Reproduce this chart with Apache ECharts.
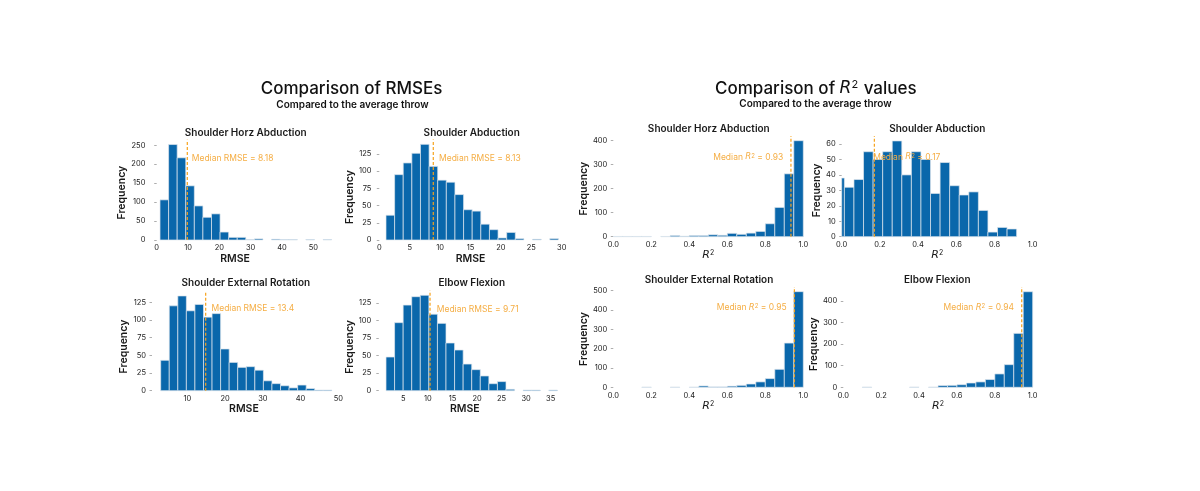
<!DOCTYPE html>
<html>
<head>
<meta charset="utf-8">
<title>RMSE / R2 histograms</title>
<script src="https://cdn.jsdelivr.net/npm/echarts@6/dist/echarts.min.js"></script>
<style>
html, body { margin: 0; padding: 0; background: #fff; }
#main { width: 1200px; height: 491px; }
</style>
</head>
<body>
<div id="main"></div>
<script>
// joint names, same order in both halves
var jointNames = ['Shoulder Horz Abduction', 'Shoulder Abduction', 'Shoulder External Rotation', 'Elbow Flexion'];

// RMSE histograms, 20 equal bins between the range ends
var rmseHorzCounts = [106, 252, 217, 143, 90, 60, 69, 21, 7, 7, 1, 3, 0, 2, 1, 1, 0, 1, 0, 1];
var rmseAbdCounts  = [36, 95, 112, 126, 139, 107, 87, 84, 66, 44, 42, 23, 15, 3, 11, 2, 0, 1, 0, 2];
var rmseExtCounts  = [43, 120, 134, 113, 122, 104, 109, 59, 40, 33, 34, 29, 14, 10, 7, 4, 8, 3, 1, 1];
var rmseElbCounts  = [48, 97, 122, 134, 136, 109, 96, 68, 58, 38, 30, 21, 10, 13, 2, 0, 1, 1, 0, 1];
var rmseRanges     = [[1.06, 55.85], [1.10, 29.46], [2.94, 48.3], [1.47, 36.37]];
var rmseLinePos    = [9.77, 8.88, 14.86, 10.43];   // where the dashed line is drawn
var rmseMedianText = ['8.18', '8.13', '13.4', '9.71'];

// R^2 histograms (abduction has 19 bins, the first one is cut at 0)
var r2HorzCounts = [1, 1, 1, 1, 0, 1, 5, 2, 5, 5, 8, 6, 14, 10, 15, 22, 54, 122, 262, 400];
var r2AbdCounts  = [38, 32, 37, 55, 50, 55, 62, 40, 55, 50, 28, 48, 33, 27, 29, 17, 3, 6, 5];
var r2ExtCounts  = [0, 0, 0, 1, 0, 0, 1, 0, 1, 7, 2, 2, 6, 10, 17, 28, 45, 93, 229, 495];
var r2ElbCounts  = [0, 0, 1, 0, 0, 0, 0, 1, 0, 1, 8, 9, 12, 20, 25, 36, 62, 105, 250, 443];
var r2Ranges     = [[0, 1], [-0.036, 0.916], [0, 1], [0, 1]];
var r2LinePos    = [0.935, 0.171, 0.953, 0.942];
var r2MedianText = ['0.93', '0.17', '0.95', '0.94'];

// axis ticks
var rmseXMax = [50, 30, 50, 35], rmseXStep = [10, 5, 10, 5];
var rmseYMax = [250, 125, 125, 125], rmseYStep = [50, 25, 25, 25];
var r2YMax = [400, 60, 500, 400], r2YStep = [100, 10, 100, 100];

var FONT = 'Inter, "Open Sans", sans-serif';
var BAR = '#0a67ab';
var EDGE = '#dfe7ee';
var ORANGE = '#f7a21b';
var INK = '#1a1a1a';

// layout of each panel (pixels), label anchor in data units
var panels = [
  { grid: [156.7, 145.3, 156.6, 94.7], yOff: 5.3, yGap: 21, xGap: 12, title: [245.7, 132.7], lab: [11.2, 216], side: 'right' },
  { grid: [379.3, 154, 182.4, 86], yOff: 1.9, yGap: 19.5, xGap: 12, title: [471.7, 132.7], lab: [9.82, 119], side: 'right' },
  { grid: [149.6, 302.3, 188.7, 88.4], yOff: -2.4, yGap: 20, xGap: 12, title: [245.8, 283.3], lab: [16.4, 116], side: 'right', hideMin: true },
  { grid: [378.8, 303, 171.9, 87.7], yOff: 1.5, yGap: 19, xGap: 12, title: [471.8, 283.3], lab: [11.8, 116.5], side: 'right', hideMin: true },
  { grid: [613.3, 140.7, 190, 96], yOff: 0, yGap: 23, xGap: 12, title: [708.8, 129], lab: [0.895, 331], side: 'left' },
  { grid: [841.7, 144, 191, 92.7], yOff: 0, yGap: 16.5, xGap: 12, title: [937.3, 129], lab: [0.165, 51.4], side: 'right', clipLo: 0 },
  { grid: [613.3, 290.7, 190, 96.6], yOff: 0, yGap: 21, xGap: 12, title: [709, 280], lab: [0.913, 412], side: 'left' },
  { grid: [843.3, 301, 189.4, 86.3], yOff: 0, yGap: 23, xGap: 12, title: [937.3, 280], lab: [0.901, 368.5], side: 'left' }
];

var allCounts = [rmseHorzCounts, rmseAbdCounts, rmseExtCounts, rmseElbCounts,
                 r2HorzCounts, r2AbdCounts, r2ExtCounts, r2ElbCounts];
var allRanges = rmseRanges.concat(r2Ranges);
var allLines = rmseLinePos.concat(r2LinePos);

var supRich = {
  i: { fontFamily: 'DejaVu Sans', fontStyle: 'italic', fontWeight: 'normal', fontSize: 11, color: INK },
  s: { fontFamily: FONT, fontSize: 7, fontWeight: 'normal', verticalAlign: 'top', color: INK, padding: [0, 0, 4, 0] }
};

function binsOf(counts, range) {
  var w = (range[1] - range[0]) / counts.length;
  var out = [];
  counts.forEach(function (c, k) {
    if (c > 0) out.push([range[0] + k * w, range[0] + (k + 1) * w, c]);
  });
  return out;
}

function barRenderer(clipLo) {
  return function (params, api) {
    var lo = api.value(0);
    if (clipLo != null && lo < clipLo) lo = clipLo;
    var a = api.coord([lo, api.value(2)]);
    var b = api.coord([api.value(1), 0]);
    return {
      type: 'rect',
      shape: { x: a[0], y: a[1], width: b[0] - a[0], height: b[1] - a[1] },
      style: { fill: BAR, stroke: EDGE, lineWidth: 0.7 }
    };
  };
}

function medianRenderer(text, side, isR2) {
  return function (params, api) {
    var p0 = api.coord([api.value(0), 0]);
    var p1 = api.coord([api.value(0), api.value(1)]);
    var q = api.coord([api.value(2), api.value(3)]);
    var txt = isR2 ? 'Median {ri|R}{rs|2} = ' + text : 'Median RMSE = ' + text;
    return {
      type: 'group',
      children: [
        { type: 'line', shape: { x1: p0[0], y1: p0[1], x2: p1[0], y2: p1[1] },
          style: { stroke: ORANGE, lineWidth: 1.2, lineDash: [3, 2] } },
        { type: 'text', x: q[0], y: q[1],
          style: { text: txt, fill: '#f5ae45', font: '8.5px ' + FONT,
                   align: side === 'left' ? 'right' : 'left', verticalAlign: 'middle',
                   rich: {
                     ri: { fontFamily: 'DejaVu Sans', fontStyle: 'italic', fontSize: 8.5, fill: '#f5ae45' },
                     rs: { fontFamily: FONT, fontSize: 6, fill: '#f5ae45', verticalAlign: 'top', padding: [0, 0, 3, 0] }
                   } } }
      ]
    };
  };
}

var grids = [], xAxes = [], yAxes = [], series = [], graphics = [];

panels.forEach(function (p, i) {
  var isR2 = i >= 4;
  var j = i % 4;
  var counts = allCounts[i];
  var top = Math.max.apply(null, counts) * 1.05;

  grids.push({ left: p.grid[0], top: p.grid[1], width: p.grid[2], height: p.grid[3], containLabel: false });

  xAxes.push({
    gridIndex: i, type: 'value',
    min: 0, max: isR2 ? 1 : rmseXMax[j], interval: isR2 ? 0.2 : rmseXStep[j],
    axisLine: { show: false }, axisTick: { show: false }, splitLine: { show: false },
    axisLabel: {
      fontFamily: FONT, fontSize: 7.5, color: INK, margin: 4,
      showMinLabel: !p.hideMin,
      formatter: isR2 ? function (v) { return v.toFixed(1); } : '{value}'
    },
    name: isR2 ? '{i|R}{s|2}' : 'RMSE', nameLocation: 'middle', nameGap: p.xGap,
    nameTextStyle: { fontFamily: FONT, fontSize: 10.5, fontWeight: isR2 ? 'normal' : 600, color: INK, rich: supRich }
  });

  yAxes.push({
    gridIndex: i, type: 'value',
    min: 0, max: isR2 ? r2YMax[j] : rmseYMax[j], interval: isR2 ? r2YStep[j] : rmseYStep[j],
    offset: p.yOff,
    axisLine: { show: false }, splitLine: { show: false },
    axisTick: { show: true, length: 2.5, lineStyle: { color: '#999', width: 0.8 } },
    axisLabel: { fontFamily: FONT, fontSize: 7.5, color: INK, margin: 6 },
    name: 'Frequency', nameLocation: 'middle', nameGap: p.yGap,
    nameTextStyle: { fontFamily: FONT, fontSize: 10.5, fontWeight: 600, color: INK }
  });

  series.push({
    type: 'custom', xAxisIndex: i, yAxisIndex: i, clip: false, silent: true,
    renderItem: barRenderer(p.clipLo),
    encode: { x: [0, 1], y: 2 },
    data: binsOf(counts, allRanges[i])
  });

  series.push({
    type: 'custom', xAxisIndex: i, yAxisIndex: i, clip: false, silent: true, z: 5,
    renderItem: medianRenderer(isR2 ? r2MedianText[j] : rmseMedianText[j], p.side, isR2),
    encode: { x: 0, y: 1 },
    data: [[allLines[i], top, p.lab[0], p.lab[1]]]
  });

  graphics.push({
    type: 'text', x: p.title[0], y: p.title[1],
    style: { text: jointNames[j], fill: INK, font: '600 10px ' + FONT, align: 'center', verticalAlign: 'middle' }
  });
});

graphics.push(
  { type: 'text', x: 351.5, y: 89,
    style: { text: 'Comparison of RMSEs', fill: '#111', font: '500 17px ' + FONT, align: 'center', verticalAlign: 'middle' } },
  { type: 'text', x: 352.5, y: 104.5,
    style: { text: 'Compared to the average throw', fill: '#111', font: '600 10px ' + FONT, align: 'center', verticalAlign: 'middle' } },
  { type: 'text', x: 815.8, y: 88.5,
    style: { text: 'Comparison of {i|R}{s|2} values', fill: '#111', font: '500 17px ' + FONT, align: 'center', verticalAlign: 'middle',
             rich: { i: { fontFamily: 'DejaVu Sans', fontStyle: 'italic', fontSize: 17, fill: '#111' },
                     s: { fontFamily: FONT, fontSize: 11, fill: '#111', verticalAlign: 'top', padding: [0, 1, 7, 0] } } } },
  { type: 'text', x: 815.5, y: 103.5,
    style: { text: 'Compared to the average throw', fill: '#111', font: '600 10px ' + FONT, align: 'center', verticalAlign: 'middle' } }
);

var chart = echarts.init(document.getElementById('main'), null, { renderer: 'canvas' });
chart.setOption({
  backgroundColor: '#fff',
  animation: false,
  grid: grids,
  xAxis: xAxes,
  yAxis: yAxes,
  series: series,
  graphic: graphics
});
</script>
</body>
</html>
